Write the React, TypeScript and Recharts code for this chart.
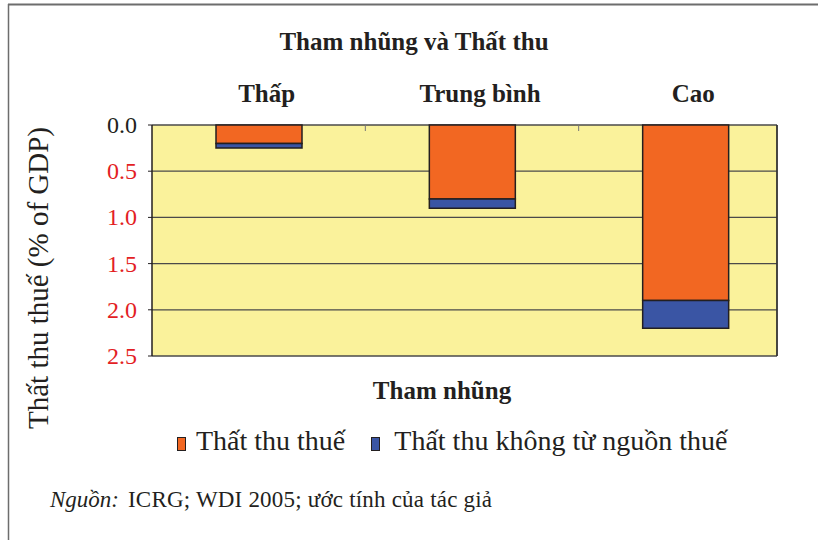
import React from 'react';
import { BarChart, Bar, XAxis, YAxis, CartesianGrid, Legend } from 'recharts';

const categories = ['Thấp', 'Trung bình', 'Cao'];
const taxLoss = [0.2, 0.8, 1.9];
const nonTaxLoss = [0.05, 0.1, 0.3];
const yTicks = [0, 0.5, 1, 1.5, 2, 2.5];
const seriesNames = ['Thất thu thuế', 'Thất thu không từ nguồn thuế'];
const title = 'Tham nhũng và Thất thu';
const xLabel = 'Tham nhũng';
const yLabel = 'Thất thu thuế (% of GDP)';
const sourceLabel = 'Nguồn:';
const sourceText = 'ICRG; WDI 2005; ước tính của tác giả';

const data = categories.map((c, i) => ({ name: c, tax: taxLoss[i], nonTax: nonTaxLoss[i] }));

const FONT = '"Liberation Serif", "Times New Roman", serif';
const ORANGE = '#F26722';
const BLUE = '#3A55A4';
const YELLOW = '#FAF29B';
const DARK = '#231F20';
const RED = '#E31E24';

const YTick = (props: any) => {
  const { x, y, payload } = props;
  const v = Number(payload.value);
  return (
    <text x={x} y={y} dy={8} textAnchor="end" fill={v === 0 ? DARK : RED} fontSize={24} fontFamily={FONT}>
      {v.toFixed(1)}
    </text>
  );
};

const XTick = (props: any) => {
  const { x, payload, index } = props;
  const off = payload && payload.offset ? payload.offset : 0;
  return (
    <g>
      <text x={x + 8} y={102} textAnchor="middle" fill={DARK} fontSize={25} fontWeight="bold" fontFamily={FONT}>
        {payload.value}
      </text>
      {index < categories.length - 1 && off > 0 ? (
        <line x1={x + off} x2={x + off} y1={125} y2={131} stroke="#777" strokeWidth={1} />
      ) : null}
    </g>
  );
};

const LegendContent = (props: any) => {
  const items = [...(props.payload || [])].sort(
    (a: any, b: any) => seriesNames.indexOf(a.value) - seriesNames.indexOf(b.value)
  );
  return (
    <div style={{ display: 'flex', alignItems: 'center', fontFamily: FONT, fontSize: 28, color: DARK, whiteSpace: 'nowrap' }}>
      {items.map((p: any, i: number) => (
        <div key={i} style={{ display: 'flex', alignItems: 'center', marginRight: i === 0 ? 26 : 0 }}>
          <span style={{ display: 'inline-block', width: 7, height: 12, background: p.color, border: `1.5px solid ${DARK}`, marginRight: i === 0 ? 10 : 14, marginTop: 5 }} />
          <span style={{ fontFamily: FONT }}>{p.value}</span>
        </div>
      ))}
    </div>
  );
};

export default function App() {
  return (
    <div style={{ position: 'absolute', left: 0, top: 0, width: 818, height: 540, background: '#fff', overflow: 'hidden' }}>
      <BarChart
        width={818}
        height={540}
        data={data}
        margin={{ top: 95, right: 40, bottom: 184, left: 0 }}
      >
        <CartesianGrid vertical={false} horizontal stroke="#4a4a4a" strokeWidth={1.3} fill={YELLOW} fillOpacity={1} />
        <XAxis
          dataKey="name"
          orientation="top"
          height={30}
          axisLine={false}
          tickLine={false}
          tick={<XTick />}
          padding={{ left: 0, right: -15 }}
          interval={0}
        />
        <YAxis
          reversed
          domain={[0, 2.5]}
          ticks={yTicks}
          width={152}
          tick={<YTick />}
          tickSize={4}
          tickMargin={11}
          axisLine={{ stroke: DARK, strokeWidth: 1.5 }}
          tickLine={{ stroke: DARK, strokeWidth: 1 }}
          interval={0}
        />
        <YAxis
          yAxisId="r"
          orientation="right"
          reversed
          domain={[0, 2.5]}
          width={1}
          tick={false}
          tickLine={false}
          axisLine={{ stroke: '#333', strokeWidth: 1.8 }}
        />
        <Bar dataKey="tax" name={seriesNames[0]} stackId="a" fill={ORANGE} stroke={DARK} strokeWidth={1.5} barSize={86} isAnimationActive={false} />
        <Bar dataKey="nonTax" name={seriesNames[1]} stackId="a" fill={BLUE} stroke={DARK} strokeWidth={1.5} barSize={86} isAnimationActive={false} />
        <Legend
          verticalAlign="middle"
          align="center"
          content={<LegendContent />}
          wrapperStyle={{ position: 'absolute', top: 425, left: 177, width: 'auto', height: 'auto' }}
        />
      </BarChart>
      <svg width={818} height={540} style={{ position: 'absolute', left: 0, top: 0, pointerEvents: 'none' }}>
        <line x1={8} y1={4.5} x2={818} y2={4.5} stroke="#6d6d6d" strokeWidth={2} />
        <line x1={8.5} y1={4} x2={8.5} y2={540} stroke="#6d6d6d" strokeWidth={1.5} />
        <text x={414} y={50} textAnchor="middle" fontFamily={FONT} fontWeight="bold" fontSize={25} fill={DARK}>{title}</text>
        <text x={442} y={399} textAnchor="middle" fontFamily={FONT} fontWeight="bold" fontSize={25} fill={DARK}>{xLabel}</text>
        <text transform="translate(48,278) rotate(-90)" textAnchor="middle" fontFamily={FONT} fontSize={29} fill={DARK}>{yLabel}</text>
        <text x={50} y={507} fontFamily={FONT} fontSize={23} fill={DARK}>
          <tspan fontStyle="italic">{sourceLabel}</tspan>
          <tspan dx={9} letterSpacing={0.2}>{sourceText}</tspan>
        </text>
      </svg>
    </div>
  );
}
